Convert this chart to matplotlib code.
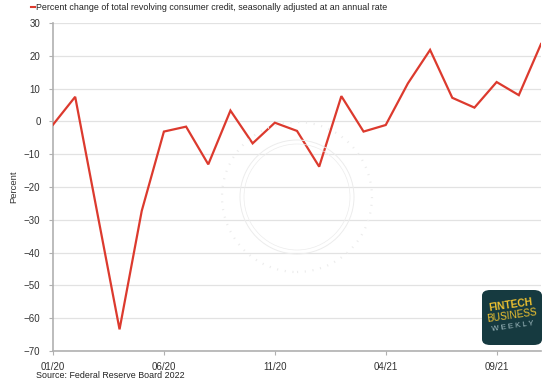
import numpy as np
import matplotlib.pyplot as plt
from matplotlib.patches import FancyBboxPatch, Ellipse

plt.rcParams['font.family'] = ['Liberation Sans', 'DejaVu Sans']

# monthly, 01/20 .. 11/21
months = ['01/20', '02/20', '03/20', '04/20', '05/20', '06/20', '07/20', '08/20',
          '09/20', '10/20', '11/20', '12/20', '01/21', '02/21', '03/21', '04/21',
          '05/21', '06/21', '07/21', '08/21', '09/21', '10/21', '11/21']
pct_change = [-1.0, 7.5, -28.0, -63.4, -27.3, -3.1, -1.6, -13.1, 3.3, -6.7, -0.4,
              -2.9, -13.8, 7.7, -3.1, -1.1, 11.6, 21.8, 7.2, 4.2, 12.0, 8.0, 23.6]
tick_labels = ['01/20', '06/20', '11/20', '04/21', '09/21']

red = '#dc3a2e'
W, H = 550, 381

fig = plt.figure(figsize=(5.5, 3.81), dpi=100)
ax = fig.add_axes([53/W, 1 - 351/H, (541 - 53)/W, (351 - 23)/H])

x = np.arange(len(months))

# faint seal watermark
for r, ls, lw in [(75, (0, (0.5, 3)), 1.6), (57, '-', 0.7), (53, '-', 0.5)]:
    c = Ellipse((297/W, 1 - 197/H), 2*r/W, 2*r/H, transform=fig.transFigure,
                fill=False, ec='#ececec', lw=lw, ls=ls, zorder=0)
    fig.patches.append(c)

ax.plot(x, pct_change, color=red, lw=1.6, zorder=3, solid_joinstyle='miter')

ax.set_xlim(0, len(months) - 1)
ax.set_ylim(-70, 30)
ax.set_yticks(np.arange(-70, 31, 10))
ax.set_xticks([months.index(m) for m in tick_labels])
ax.set_xticklabels(tick_labels)
ax.grid(axis='y', color='#e2e2e2', lw=0.9)
ax.set_axisbelow(True)
ax.patch.set_alpha(0)

for s in ['top', 'right']:
    ax.spines[s].set_visible(False)
for s in ['left', 'bottom']:
    ax.spines[s].set_color('#b0b0b0')
    ax.spines[s].set_linewidth(1.2)

ax.tick_params(axis='both', labelsize=7, labelcolor='#333333', color='#b0b0b0', length=3, width=0.8)
ax.tick_params(axis='y', pad=6)
ax.tick_params(axis='x', pad=5)
ax.set_ylabel('Percent', fontsize=6.8, color='#333333', labelpad=4)

# legend-like title
fig.text(36/W, 1 - 8/H, 'Percent change of total revolving consumer credit, seasonally adjusted at an annual rate',
         fontsize=6.4, color='#222222', va='center', ha='left')
fig.lines.append(plt.Line2D([31/W, 35/W], [1 - 7/H, 1 - 7/H], transform=fig.transFigure,
                            color=red, lw=1.5))

fig.text(36/W, 1 - 376/H, 'Source: Federal Reserve Board 2022', fontsize=6.4,
         color='#222222', va='center', ha='left')

# logo
logo = FancyBboxPatch((482/W, 1 - 345/H), 60/W, 55/H,
                      boxstyle='round,pad=0,rounding_size=0.015', transform=fig.transFigure,
                      fc='#163a40', ec='none', zorder=5)
fig.patches.append(logo)
fig.text(511/W, 1 - 305/H, 'FINTECH', fontsize=7.4, fontweight='bold', color='#f0c330',
         ha='center', va='center', rotation=8, zorder=6)
fig.text(512/W, 1 - 316/H, 'BUSINESS', fontsize=7.2, color='#f0c330',
         ha='center', va='center', rotation=8, zorder=6)
fig.text(513/W, 1 - 327/H, 'W E E K L Y', fontsize=5.6, color='#a9c3c8',
         ha='center', va='center', rotation=8, zorder=6)

fig.savefig('out.png', dpi=100)
